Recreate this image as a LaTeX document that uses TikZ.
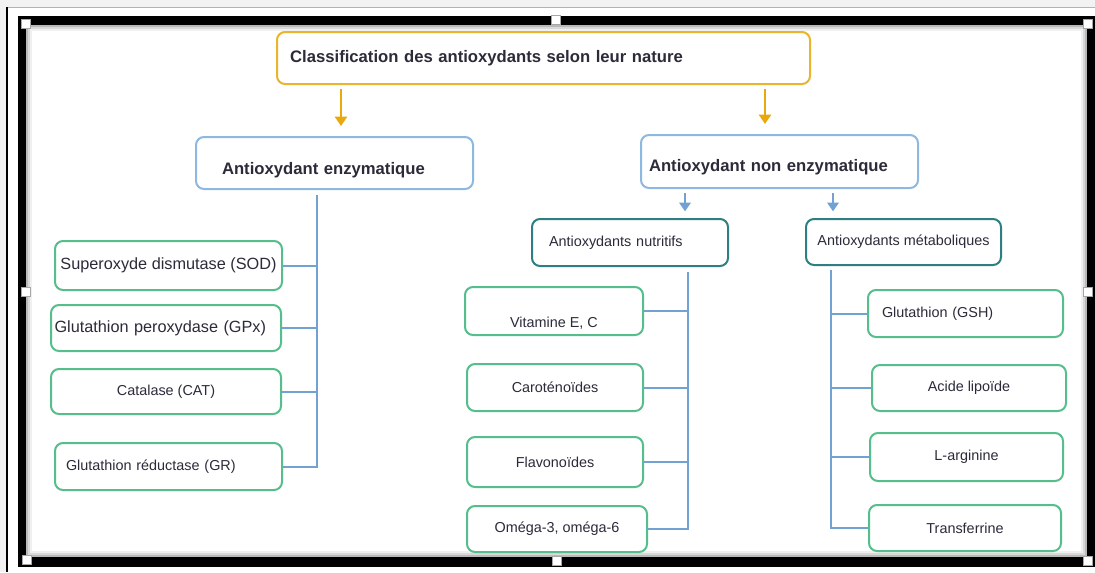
\documentclass[tikz,border=0pt]{standalone}
\usepackage{fontspec}
\setmainfont{Liberation Sans}
\usepackage{tikz}
\usetikzlibrary{arrows.meta}
\definecolor{goldline}{HTML}{E8B52C}
\definecolor{goldarrow}{HTML}{E9A90C}
\definecolor{skyline}{HTML}{8DB8E2}
\definecolor{skyarrow}{HTML}{72A2D4}
\definecolor{tealline}{HTML}{2F7F80}
\definecolor{leafline}{HTML}{55BE8C}
\definecolor{inktext}{HTML}{2B2B3A}
\tikzset{
    base-box/.style = {rectangle, rounded corners=6pt, line width=1.5pt, fill=white, text=inktext, inner sep=0pt},
    title-box/.style = {base-box, draw=goldline, font=\fontsize{12.5}{14}\selectfont\bfseries},
    group-box/.style = {base-box, draw=skyline, font=\fontsize{12.5}{14}\selectfont\bfseries},
    sub-box/.style = {base-box, draw=tealline, font=\fontsize{10.8}{13}\selectfont},
    leaf-box/.style = {base-box, draw=leafline, font=\fontsize{10.8}{13}\selectfont},
    size/.style 2 args = {minimum width=#1, minimum height=#2},
    drop/.style 2 args = {text height=#1, text depth=#2},
    gold-arrow/.style = {draw=goldarrow, line width=2.2pt, -{Triangle[width=9pt,length=7pt]}},
    sky-arrow/.style = {draw=skyarrow, line width=2.2pt, -{Triangle[width=8.5pt,length=6.5pt]}},
    branch/.style = {draw=skyarrow, line width=1.5pt},
    handle/.style = {fill=white, draw=gray!70, line width=0.4pt, minimum size=6.5pt, inner sep=0pt},
}
\begin{document}
\begin{tikzpicture}[x=0.75pt, y=-0.75pt]
% window and frame
\useasboundingbox (0,0) rectangle (1095,572);
\fill[gray!10] (0,0) rectangle (1095,572);
\fill[white] (8,8) rectangle (1095,572);
\draw[gray!60, line width=0.75pt] (7,7.5) -- (1095,7.5);
\draw[black, line width=1.5pt] (7,7) -- (7,572);
\fill[black] (18,16) rectangle (1095,567);
\fill[gray!55] (26,25) rectangle (1087,557);
\fill[gray!30] (28,27) rectangle (1085,555);
\fill[gray!12] (30,29) rectangle (1083,553);
\fill[white] (32,31) rectangle (1081,551);

% top level
\node[title-box, size={399.75pt}{39pt}, align=left, text width=380pt] (classif) at (543.5,58) {Classification des antioxydants selon leur nature};

% second level
\node[group-box, size={207.75pt}{39pt}, align=left, text width=168.75pt, drop={28.35pt}{10.65pt}] (enz) at (334.5,163) {Antioxydant enzymatique};
\node[group-box, size={207.75pt}{39.75pt}, align=left, text width=195.75pt, drop={27.6pt}{12.15pt}] (nonenz) at (779.5,161.5) {Antioxydant non enzymatique};

\draw[gold-arrow, shorten <=3pt, shorten >=7.5pt] (classif.south -| 341,0) -- (enz.north -| 341,0);
\draw[gold-arrow, shorten <=3pt, shorten >=7.5pt] (classif.south -| 765,0) -- (nonenz.north -| 765,0);

% third level
\node[sub-box, size={147pt}{35.25pt}, align=left, text width=121.5pt] (nutri) at (630,242.5) {Antioxydants nutritifs};
\node[sub-box, size={146.25pt}{34.5pt}] (meta) at (903.5,242) {Antioxydants métaboliques};

\draw[sky-arrow, shorten <=3pt, shorten >=5pt] (nonenz.south -| 685,0) -- (nutri.north -| 685,0);
\draw[sky-arrow, shorten <=3pt, shorten >=5pt] (nonenz.south -| 833,0) -- (meta.north -| 833,0);

% enzymes
\node[leaf-box, size={170.25pt}{36.75pt}, font=\fontsize{12.2}{14}\selectfont] (sod) at (168.5,265.5) {Superoxyde dismutase (SOD)};
\node[leaf-box, size={172.5pt}{34.5pt}, font=\fontsize{12.2}{14}\selectfont, align=left, text width=167.25pt] (gpx) at (166,328) {Glutathion peroxydase (GPx)};
\node[leaf-box, size={172.5pt}{33.75pt}] (cat) at (166,391.5) {Catalase (CAT)};
\node[leaf-box, size={170.25pt}{35.25pt}, align=left, text width=153.75pt] (gr) at (168.5,466.5) {Glutathion réductase (GR)};

% nutritifs
\node[leaf-box, size={133.5pt}{36pt}, drop={30.15pt}{5.85pt}] (vit) at (554,311) {Vitamine E, C};
\node[leaf-box, size={132pt}{35.25pt}] (caro) at (555,387.5) {Caroténoïdes};
\node[leaf-box, size={132pt}{37.5pt}] (flavo) at (555,462) {Flavonoïdes};
\node[leaf-box, size={135pt}{34.5pt}] (omega) at (557,529) {Oméga-3, oméga-6};

% metaboliques
\node[leaf-box, size={146.25pt}{35.25pt}, align=left, text width=125.25pt] (gsh) at (965.5,313.5) {Glutathion (GSH)};
\node[leaf-box, size={145.5pt}{34.5pt}] (acide) at (969,388) {Acide lipoïde};
\node[leaf-box, size={144.75pt}{36pt}] (larg) at (966.5,457) {L-arginine};
\node[leaf-box, size={144pt}{34.5pt}] (transf) at (965,528) {Transferrine};

% trees
\coordinate (enztrunk) at (317,195);
\coordinate (nutritrunk) at (688,272);
\coordinate (metatrunk) at (831,270);
\draw[branch] (enztrunk) |- (gr.east);
\foreach \n in {sod,gpx,cat}
  \draw[branch] (\n.east) -- (\n.east -| enztrunk);
\draw[branch] (nutritrunk) |- (omega.east);
\foreach \n in {vit,caro,flavo}
  \draw[branch] (\n.east) -- (\n.east -| nutritrunk);
\draw[branch] (metatrunk) |- (transf.west);
\foreach \n in {gsh,acide,larg}
  \draw[branch] (\n.west) -- (\n.west -| metatrunk);

% selection handles
\foreach \hx/\hy [count=\i] in {26/24,556/20,1088/24,26/292,1088/292,27/560,557/561,1088/561}
  \node[handle] (h\i) at (\hx,\hy) {};
\end{tikzpicture}
\end{document}
